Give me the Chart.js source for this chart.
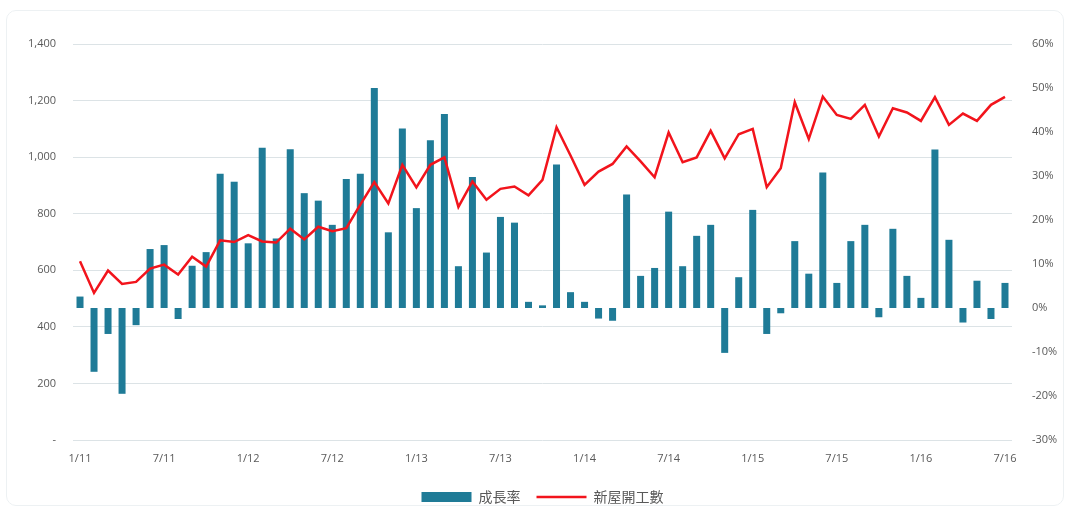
<!DOCTYPE html>
<html>
<head>
<meta charset="utf-8">
<script src="https://cdn.jsdelivr.net/npm/chart.js@4.4.1/dist/chart.umd.min.js"></script>
<style>
  html, body { margin: 0; padding: 0; background: #ffffff; }
  #wrap { position: relative; width: 1071px; height: 510px; }
  #frame { position: absolute; left: 6px; top: 10px; width: 1058px; height: 496px;
           border: 1px solid #edf1f3; border-radius: 10px; box-sizing: border-box; pointer-events: none; }
</style>
</head>
<body>
<div id="wrap">
  <canvas id="c" width="1071" height="510"></canvas>
  <div id="frame"></div>
</div>
<script>
// Months from Jan 2011 to Jul 2016
const months = [];
for (let y = 11; y <= 16; y++) {
  for (let m = 1; m <= 12; m++) {
    if (y === 16 && m > 7) break;
    months.push(m + '/' + y);
  }
}

// Year-over-year growth rate (%)
const growthRate = [
  2.6, -14.5, -5.9, -19.5, -3.9, 13.4, 14.3, -2.5, 9.6, 12.7, 30.5, 28.7,
  14.7, 36.4, 15.8, 36.1, 26.1, 24.4, 18.9, 29.3, 30.5, 50.0, 17.2, 40.8,
  22.7, 38.1, 44.1, 9.5, 29.8, 12.6, 20.7, 19.4, 1.4, 0.6, 32.6, 3.6,
  1.4, -2.4, -2.9, 25.8, 7.3, 9.1, 21.9, 9.5, 16.4, 18.9, -10.2, 7.0,
  22.3, -5.9, -1.2, 15.2, 7.8, 30.8, 5.7, 15.2, 18.9, -2.1, 18.0, 7.3,
  2.3, 36.0, 15.5, -3.3, 6.2, -2.5, 5.7
];

// Housing starts (thousands)
const housingStarts = [
  632, 520, 599, 552, 559, 606, 620, 585, 648, 613, 706, 700,
  724, 702, 698, 747, 709, 754, 738, 749, 832, 912, 836, 973,
  893, 973, 999, 824, 914, 849, 888, 896, 865, 920, 1106, 1006,
  902, 949, 976, 1038, 985, 929, 1087, 982, 999, 1093, 996, 1081,
  1100, 894, 961, 1194, 1064, 1214, 1149, 1135, 1185, 1073, 1173, 1158,
  1128, 1212, 1114, 1154, 1128, 1185, 1213
];

const seriesNames = ['成長率', '新屋開工數'];
const leftTicks = [0, 200, 400, 600, 800, 1000, 1200, 1400];
const rightTicks = [-30, -20, -10, 0, 10, 20, 30, 40, 50, 60];

const tickFont = { family: "'Open Sans', 'Noto Sans', sans-serif", size: 11 };
const textColor = '#595959';

new Chart(document.getElementById('c'), {
  data: {
    labels: months,
    datasets: [
      {
        type: 'bar',
        label: seriesNames[0],
        data: growthRate,
        yAxisID: 'yRight',
        backgroundColor: '#1f7b97',
        borderWidth: 0,
        barPercentage: 0.5,
        categoryPercentage: 1.0,
        order: 2,
        pointStyle: 'rect'
      },
      {
        type: 'line',
        label: seriesNames[1],
        data: housingStarts,
        yAxisID: 'yLeft',
        borderColor: '#f2141c',
        backgroundColor: '#f2141c',
        borderWidth: 2.5,
        pointRadius: 0,
        tension: 0,
        order: 1,
        pointStyle: 'line'
      }
    ]
  },
  options: {
    responsive: false,
    animation: false,
    layout: { padding: { top: 44, left: 0, right: 0, bottom: -4 } },
    plugins: {
      tooltip: { enabled: false },
      legend: {
        position: 'bottom',
        fullSize: false,
        labels: {
          usePointStyle: true,
          pointStyleWidth: 50,
          boxHeight: 10,
          padding: 16,
          color: textColor,
          font: { family: "'Noto Sans CJK TC', 'Noto Sans', sans-serif", size: 14 },
          sort: (a, b) => a.datasetIndex - b.datasetIndex
        }
      }
    },
    scales: {
      x: {
        offset: true,
        grid: { display: false },
        border: { display: false },
        ticks: {
          autoSkip: false,
          maxRotation: 0,
          minRotation: 0,
          color: textColor,
          font: tickFont,
          padding: 4,
          callback: function (v, i) { return i % 6 === 0 ? months[i] : ''; }
        },
        afterFit: (s) => { s.height = 34; }
      },
      yLeft: {
        position: 'left',
        min: 0,
        max: 1400,
        afterBuildTicks: (s) => { s.ticks = leftTicks.map(v => ({ value: v })); },
        grid: { color: '#dce3e6', lineWidth: 1, drawTicks: false },
        border: { display: false },
        ticks: {
          color: textColor,
          font: tickFont,
          padding: 17,
          callback: (v) => v === 0 ? '-' : v.toLocaleString('en-US')
        },
        afterFit: (s) => { s.width = 73; }
      },
      yRight: {
        position: 'right',
        min: -30,
        max: 60,
        afterBuildTicks: (s) => { s.ticks = rightTicks.map(v => ({ value: v })); },
        grid: { display: false, drawTicks: false },
        border: { display: false },
        ticks: {
          color: textColor,
          font: tickFont,
          padding: 20,
          callback: (v) => v + '%'
        },
        afterFit: (s) => { s.width = 59; }
      }
    }
  }
});
</script>
</body>
</html>
